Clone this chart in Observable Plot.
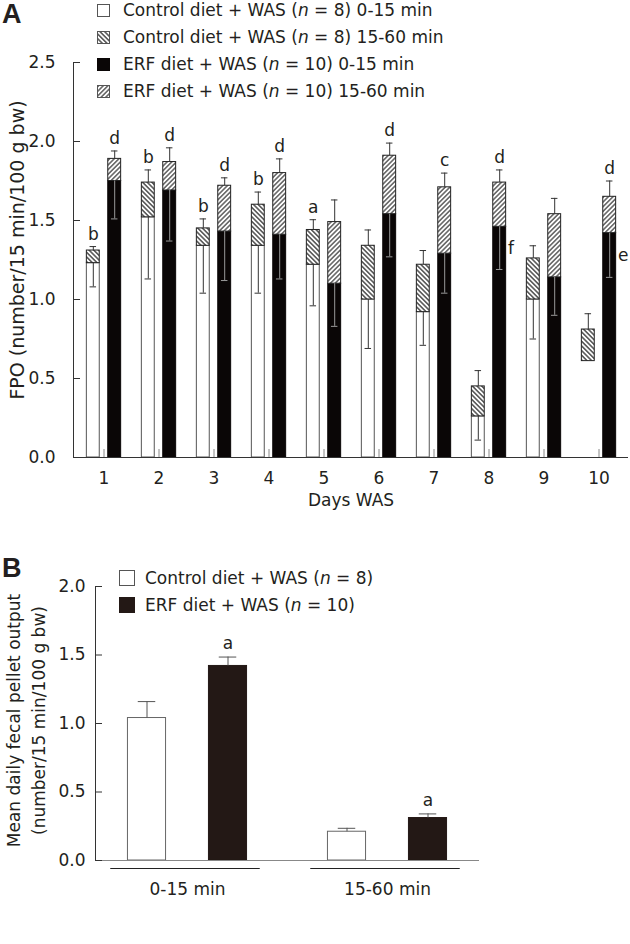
<!DOCTYPE html>
<html><head><meta charset="utf-8">
<script src="https://cdn.jsdelivr.net/npm/d3@7"></script>
<script src="https://cdn.jsdelivr.net/npm/@observablehq/plot@0.6"></script>
<style>
html,body{margin:0;padding:0;background:#fff;}
#wrap{position:relative;width:630px;height:944px;overflow:hidden;font-family:"DejaVu Sans",sans-serif;color:#231f20;}
.plot{position:absolute;left:0;}
.panel{position:absolute;font-family:"Liberation Sans",Arial,sans-serif;font-weight:bold;font-size:27px;line-height:27px;}
.leg{position:absolute;font-size:17px;line-height:26px;height:26px;white-space:nowrap;}
.sw{position:absolute;}
</style></head>
<body>
<svg width="0" height="0" style="position:absolute">
<defs>
<pattern id="hatchCtrl" patternUnits="userSpaceOnUse" width="3.3" height="3.3" patternTransform="rotate(-45)">
<rect width="3.3" height="3.3" fill="#fff"/><line x1="1.65" y1="-1" x2="1.65" y2="4.3" stroke="#222" stroke-width="1.2"/></pattern>
<pattern id="hatchErf" patternUnits="userSpaceOnUse" width="3.3" height="3.3" patternTransform="rotate(45)">
<rect width="3.3" height="3.3" fill="#fff"/><line x1="1.65" y1="-1" x2="1.65" y2="4.3" stroke="#222" stroke-width="1.1"/></pattern>
</defs></svg>
<div id="wrap"></div>
<script>
// ---------- Panel A data ----------
const days = [1, 2, 3, 4, 5, 6, 7, 8, 9, 10];
const ctrlEarly   = [1.23, 1.52, 1.34, 1.34, 1.22, 1.00, 0.92, 0.26, 1.00, 0.61];
const ctrlLate    = [0.08, 0.22, 0.11, 0.26, 0.22, 0.34, 0.30, 0.19, 0.26, 0.20];
const ctrlEarlySE = [0.15, 0.39, 0.30, 0.30, 0.26, 0.31, 0.21, 0.15, 0.25, null];
const ctrlLateSE  = [0.025, 0.08, 0.06, 0.08, 0.065, 0.10, 0.09, 0.10, 0.08, 0.10];
const erfEarly    = [1.75, 1.69, 1.43, 1.41, 1.10, 1.54, 1.29, 1.46, 1.14, 1.42];
const erfLate     = [0.14, 0.18, 0.29, 0.39, 0.39, 0.37, 0.42, 0.28, 0.40, 0.23];
const erfEarlySE  = [0.24, 0.32, 0.31, 0.28, 0.27, 0.27, 0.25, 0.27, 0.24, 0.28];
const erfLateSE   = [0.05, 0.09, 0.05, 0.09, 0.14, 0.08, 0.09, 0.08, 0.10, 0.10];
const ctrlLetters = ["b", "b", "b", "b", "a", "", "", "", "", ""];
const erfLetters  = ["d", "d", "d", "d", "", "d", "c", "d", "", "d"];
const erfSideLetters = ["", "", "", "", "", "", "", "f", "", "e"];
const yTicksA = [0, 0.5, 1.0, 1.5, 2.0, 2.5];
const yLabelA = "FPO (number/15 min/100 g bw)";
const xLabelA = "Days WAS";
const legendDietsA = ["Control diet", "Control diet", "ERF diet", "ERF diet"];
const legendNA = [8, 8, 10, 10];
const legendPeriodsA = ["0-15 min", "15-60 min", "0-15 min", "15-60 min"];

// ---------- Panel B data ----------
const periodsB = ["0-15 min", "15-60 min"];
const ctrlMeanB = [1.04, 0.21];
const ctrlSEB   = [0.12, 0.025];
const erfMeanB  = [1.42, 0.31];
const erfSEB    = [0.065, 0.03];
const erfLettersB = ["a", "a"];
const yTicksB = [0, 0.5, 1.0, 1.5, 2.0];
const yLabelB = "Mean daily fecal pellet output\n(number/15 min/100 g bw)";
const legendDietsB = ["Control diet", "ERF diet"];
const legendNB = [8, 10];

// ---------- helpers ----------
const ink = "#231f20";
const black = "#0a0606";
function ins(bw, c, w) { return {insetLeft: bw / 2 + c - w / 2, insetRight: bw / 2 - c - w / 2}; }
const fmt = d => d.toFixed(1);
const wrap = document.getElementById("wrap");

// ---------- Panel A ----------
const WA = 630, HA = 540, mA = {top: 62, right: 2, bottom: 83, left: 73};
const frameWA = WA - mA.left - mA.right, frameHA = HA - mA.top - mA.bottom;
const bwA = frameWA / days.length;
const offA = 10.7, barWA = 13.4, capWA = 7;

const rowsA = days.map((day, i) => ({
  day,
  cE: ctrlEarly[i], cT: ctrlEarly[i] + ctrlLate[i], cESE: ctrlEarlySE[i], cLSE: ctrlLateSE[i],
  eE: erfEarly[i], eT: erfEarly[i] + erfLate[i], eESE: erfEarlySE[i], eLSE: erfLateSE[i],
  cL: ctrlLetters[i], eL: erfLetters[i], eS: erfSideLetters[i]
}));
const cIns = ins(bwA, -offA, barWA), eIns = ins(bwA, offA, barWA);
const cCap = ins(bwA, -offA, capWA), eCap = ins(bwA, offA, capWA);

const plotA = Plot.plot({
  width: WA, height: HA,
  marginTop: mA.top, marginRight: mA.right, marginBottom: mA.bottom, marginLeft: mA.left,
  style: {fontFamily: "DejaVu Sans", fontSize: "17px", color: ink, background: "transparent", overflow: "visible"},
  x: {type: "band", domain: days, padding: 0},
  y: {domain: [0, 2.5], nice: false},
  marks: [
    // the original shows no outline for day 10's 0-15 min control bar
    Plot.barY(rowsA.filter(d => d.day !== 10), {x: "day", y1: 0, y2: "cE", fill: "#fff", stroke: "#555", strokeWidth: 1, ...cIns}),
    Plot.barY(rowsA, {x: "day", y1: "cE", y2: "cT", fill: "url(#hatchCtrl)", stroke: "#222", strokeWidth: 1, ...cIns}),
    Plot.barY(rowsA, {x: "day", y1: 0, y2: "eE", fill: black, stroke: black, strokeWidth: 1, ...eIns}),
    Plot.barY(rowsA, {x: "day", y1: "eE", y2: "eT", fill: "url(#hatchErf)", stroke: "#222", strokeWidth: 1, ...eIns}),
    // whiskers
    Plot.ruleX(rowsA.filter(d => d.cESE != null), {x: "day", y1: "cE", y2: d => d.cE - d.cESE, dx: -offA, stroke: "#333"}),
    Plot.tickY(rowsA.filter(d => d.cESE != null), {x: "day", y: d => d.cE - d.cESE, stroke: "#333", ...cCap}),
    Plot.ruleX(rowsA, {x: "day", y1: "cT", y2: d => d.cT + d.cLSE, dx: -offA, stroke: "#333"}),
    Plot.tickY(rowsA, {x: "day", y: d => d.cT + d.cLSE, stroke: "#333", ...cCap}),
    Plot.ruleX(rowsA, {x: "day", y1: "eE", y2: d => d.eE - d.eESE, dx: offA, stroke: "#999"}),
    Plot.tickY(rowsA, {x: "day", y: d => d.eE - d.eESE, stroke: "#999", ...eCap}),
    Plot.ruleX(rowsA, {x: "day", y1: "eT", y2: d => d.eT + d.eLSE, dx: offA, stroke: "#333"}),
    Plot.tickY(rowsA, {x: "day", y: d => d.eT + d.eLSE, stroke: "#333", ...eCap}),
    // significance letters
    Plot.text(rowsA.filter(d => d.cL), {x: "day", y: d => d.cT + d.cLSE, text: "cL", dx: -offA, dy: -7, lineAnchor: "bottom", fill: ink}),
    Plot.text(rowsA.filter(d => d.eL), {x: "day", y: d => d.eT + d.eLSE, text: "eL", dx: offA, dy: -7, lineAnchor: "bottom", fill: ink}),
    Plot.text(rowsA.filter(d => d.eS), {x: "day", y: d => d.eE - d.eESE / 2, text: "eS", dx: offA + barWA / 2 + 1.5, textAnchor: "start", lineAnchor: "middle", fill: ink}),
    // axes
    Plot.ruleY([0], {stroke: "#333"}),
    Plot.frame({anchor: "left", stroke: "#333"}),
    Plot.tickY(yTicksA, {y: d => d, insetRight: frameWA - 7, stroke: "#333"}),
    Plot.tickX(days, {x: d => d, insetTop: frameHA - 8, stroke: "#888"}),
    Plot.axisY({ticks: yTicksA, tickFormat: fmt, tickSize: 0, tickPadding: 18, label: null}),
    Plot.axisX({tickSize: 0, tickPadding: 14, label: null}),
    Plot.text([yLabelA], {text: d => d, frameAnchor: "left", dx: -56, dy: -10, rotate: -90, textAnchor: "middle", lineAnchor: "middle", fontSize: 19, fill: ink}),
    Plot.text([xLabelA], {text: d => d, frameAnchor: "bottom", dy: 43, textAnchor: "middle", lineAnchor: "middle", fill: ink})
  ]
});
plotA.classList.add("plot");
plotA.style.top = "0px";
wrap.appendChild(plotA);

// ---------- Panel B ----------
const WB = 630, HB = 404, mB = {top: 46, right: 151, bottom: 84, left: 95};
const frameWB = WB - mB.left - mB.right;
const xRangeB = [86.25, 487.25];
const bwB = (xRangeB[1] - xRangeB[0]) / periodsB.length;
const offB = 40.5, barWB = 38.6, capWB = 18;
const rowsB = periodsB.map((p, i) => ({p, c: ctrlMeanB[i], cSE: ctrlSEB[i], e: erfMeanB[i], eSE: erfSEB[i], eL: erfLettersB[i]}));

const plotB = Plot.plot({
  width: WB, height: HB,
  marginTop: mB.top, marginRight: mB.right, marginBottom: mB.bottom, marginLeft: mB.left,
  style: {fontFamily: "DejaVu Sans", fontSize: "17px", color: ink, background: "transparent", overflow: "visible"},
  x: {type: "band", domain: periodsB, range: xRangeB, padding: 0},
  y: {domain: [0, 2], nice: false},
  marks: [
    Plot.barY(rowsB, {x: "p", y1: 0, y2: "c", fill: "#fff", stroke: "#666", strokeWidth: 1, ...ins(bwB, -offB, barWB)}),
    Plot.barY(rowsB, {x: "p", y1: 0, y2: "e", fill: "#231815", stroke: "#231815", strokeWidth: 1, ...ins(bwB, offB, barWB)}),
    Plot.ruleX(rowsB, {x: "p", y1: "c", y2: d => d.c + d.cSE, dx: -offB, stroke: "#555"}),
    Plot.tickY(rowsB, {x: "p", y: d => d.c + d.cSE, stroke: "#555", ...ins(bwB, -offB, capWB)}),
    Plot.ruleX(rowsB, {x: "p", y1: "e", y2: d => d.e + d.eSE, dx: offB, stroke: "#555"}),
    Plot.tickY(rowsB, {x: "p", y: d => d.e + d.eSE, stroke: "#555", ...ins(bwB, offB, capWB)}),
    Plot.text(rowsB.filter(d => d.eL), {x: "p", y: d => d.e + d.eSE, text: "eL", dx: offB, dy: -8, lineAnchor: "bottom", fill: ink}),
    Plot.ruleY([0], {stroke: "#888"}),
    Plot.frame({anchor: "left", stroke: "#333"}),
    Plot.tickY(yTicksB, {y: d => d, insetRight: frameWB - 7, stroke: "#333"}),
    Plot.tickY(periodsB, {x: d => d, y: 0, dy: 8, stroke: "#222", ...ins(bwB, -2, 150)}),
    Plot.axisY({ticks: yTicksB, tickFormat: fmt, tickSize: 0, tickPadding: 10, label: null}),
    Plot.axisX({tickSize: 0, tickPadding: 22, label: null}),
    Plot.text([yLabelB], {text: d => d, frameAnchor: "left", dx: -71.5, dy: -3, rotate: -90, textAnchor: "middle", lineAnchor: "middle", lineHeight: 25 / 17, fill: ink})
  ]
});
plotB.classList.add("plot");
plotB.style.top = "540px";
wrap.appendChild(plotB);

// ---------- Panel letters & legends (HTML) ----------
function addDiv(cls, left, top, html) {
  const d = document.createElement("div");
  d.className = cls; d.style.left = left + "px"; d.style.top = top + "px"; d.innerHTML = html;
  wrap.appendChild(d); return d;
}
addDiv("panel", 2, 1, "A");
addDiv("panel", 2, 555, "B");

function swatch(left, top, size, fill, stroke) {
  const s = `<svg width="${size}" height="${size}"><rect x="0.5" y="0.5" width="${size - 1}" height="${size - 1}" fill="${fill}" stroke="${stroke}"/></svg>`;
  const d = addDiv("sw", left, top, s);
  d.style.lineHeight = "0";
}
const fillsA = ["#fff", "url(#hatchCtrl)", black, "url(#hatchErf)"];
const strokesA = ["#555", "#555", black, "#555"];
legendDietsA.forEach((diet, i) => {
  const c = 10 + i * 27;
  swatch(97, c - 6.5, 13, fillsA[i], strokesA[i]);
  addDiv("leg", 123, c - 13, `${diet} + WAS (<i>n</i> = ${legendNA[i]}) ${legendPeriodsA[i]}`);
});
const fillsB = ["#fff", "#231815"], strokesB = ["#555", "#231815"];
legendDietsB.forEach((diet, i) => {
  const c = 578 + i * 27;
  swatch(119, c - 8, 16, fillsB[i], strokesB[i]);
  addDiv("leg", 145, c - 13, `${diet} + WAS (<i>n</i> = ${legendNB[i]})`);
});
</script>
</body></html>
